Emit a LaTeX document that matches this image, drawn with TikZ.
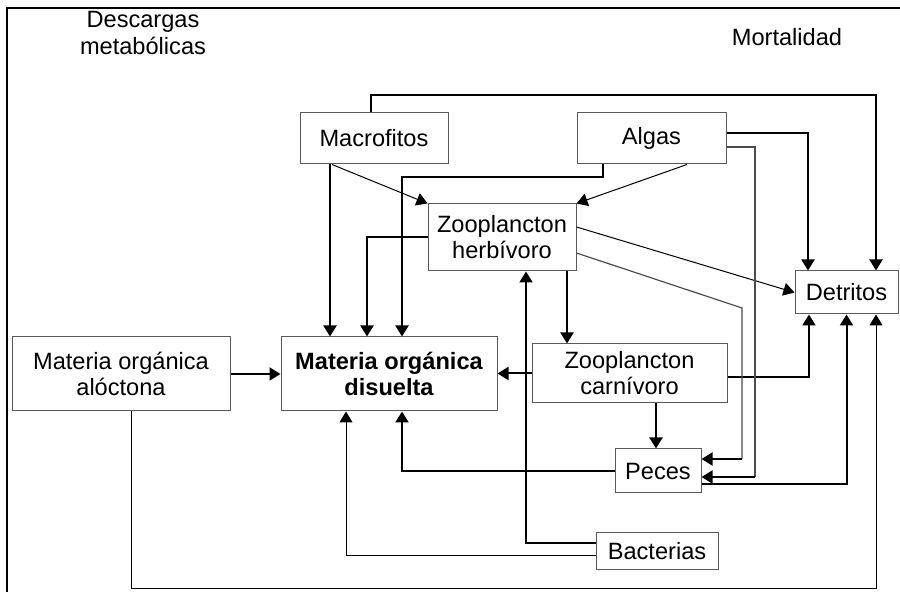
\documentclass[tikz,border=0pt]{standalone}
\usepackage{fontspec}
\setmainfont{Liberation Sans}
\usetikzlibrary{positioning}
\usetikzlibrary{arrows.meta}

\begin{document}
\begin{tikzpicture}[x=0.5pt, y=-0.5pt,
    box/.style={draw=black!65, line width=0.5pt, inner sep=0pt, align=center, font=\fontsize{11.8}{13}\selectfont},
    arr/.style={-{Triangle[length=5.5pt,width=6.5pt]}, line width=1pt},
    tarr/.style={-{Triangle[length=5.5pt,width=6.5pt]}, line width=0.5pt},
    lbl/.style={align=center, font=\fontsize{11.8}{13.5}\selectfont}]
    \useasboundingbox (0,0) rectangle (900,592);
    \draw[line width=0.75pt] (7,592) -- (7,8) -- (900,8);

    \node[lbl] (desc) at (143,33) {Descargas\\metabólicas};
    \node[lbl] (mortal) at (787,37) {Mortalidad};

    \node[box, minimum width=74pt, minimum height=25.5pt] (macro) at (374,138.5) {Macrofitos};
    \node[box, minimum width=74.5pt, minimum height=25.5pt] (algas) at (651.5,138.5) {Algas};
    \node[box, minimum width=74pt, minimum height=33.5pt] (zh) at (502,237.5) {Zooplancton\\herbívoro};
    \node[box, minimum width=51.5pt, minimum height=21.5pt] (det) at (846.5,292.5) {Detritos};
    \node[box, minimum width=109pt, minimum height=37pt] (aloc) at (121,374) {Materia orgánica\\alóctona};
    \node[box, minimum width=108pt, minimum height=37pt, font=\fontsize{11.8}{13}\selectfont\bfseries] (mod) at (389,374) {Materia orgánica\\disuelta};
    \node[box, minimum width=97.5pt, minimum height=29.5pt] (zc) at (629.5,373.5) {Zooplancton\\carnívoro};
    \node[box, minimum width=43pt, minimum height=22pt] (peces) at (658,471) {Peces};
    \node[box, minimum width=61pt, minimum height=18.5pt] (bact) at (657,551.5) {Bacterias};

    \coordinate (mort) at (876,95);
    \coordinate (ab) at (402,177);
    \coordinate (ag) at (755,477);
    \coordinate (zp) at (742,308);
    \coordinate (zq) at (742,459);
    \coordinate (abot) at (876,589);

    % mortalidad
    \draw[arr] ([xshift=-1.5pt]macro.north) |- (mort) -- (mort |- det.north);
    \draw[arr] ([yshift=2.75pt]algas.east) -| ([xshift=-19.25pt]det.north);
    \draw[arr] ([yshift=-1.75pt]zc.east) -| ([xshift=-18.75pt]det.south);
    \draw[arr] ([yshift=-6.5pt]peces.east) -| (det.south);
    \draw[tarr] ([yshift=5.25pt]zh.east) -- (det.west);
    \draw[tarr] ([xshift=5pt]aloc.south) |- (abot) -- (abot |- det.south);

    % descargas metabolicas
    \draw[arr] ([xshift=-22pt]macro.south) coordinate (m1) -- (m1 |- mod.north);
    \draw[arr] ([xshift=-24.25pt]algas.south) |- (ab) -- (ab |- mod.north);
    \draw[arr] (zh.west) -| ([xshift=-11pt]mod.north);
    \draw[arr] (zc.west) -- (zc.west -| mod.east);
    \draw[arr] (peces.west) -| ([xshift=6.5pt]mod.south);
    \draw[tarr] ([yshift=-2.25pt]bact.west) -| ([xshift=-21.5pt]mod.south);
    \draw[arr] (aloc.east) -- (mod.west);

    % alimentacion
    \draw[tarr] ([xshift=-21pt]macro.south) -- (zh.north west);
    \draw[tarr] ([xshift=17.75pt]algas.south) -- (zh.north east);
    \draw[arr] ([xshift=32.5pt]zh.south) coordinate (z1) -- (z1 |- zc.north);
    \draw[arr] ([xshift=13.25pt]zc.south) coordinate (z2) -- (z2 |- peces.north);
    \draw[black!70, line width=0.6pt] ([yshift=-4.25pt]algas.east) -| (ag);
    \draw[arr] (ag) -- (ag -| peces.east);
    \draw[black!70, line width=0.6pt] ([yshift=-7.75pt]zh.east) -- (zp) -- (zq);
    \draw[arr] (zq) -- (zq -| peces.east);
    \draw[arr] ([yshift=4.25pt]bact.west) -| ([xshift=12pt]zh.south);
\end{tikzpicture}
\end{document}
